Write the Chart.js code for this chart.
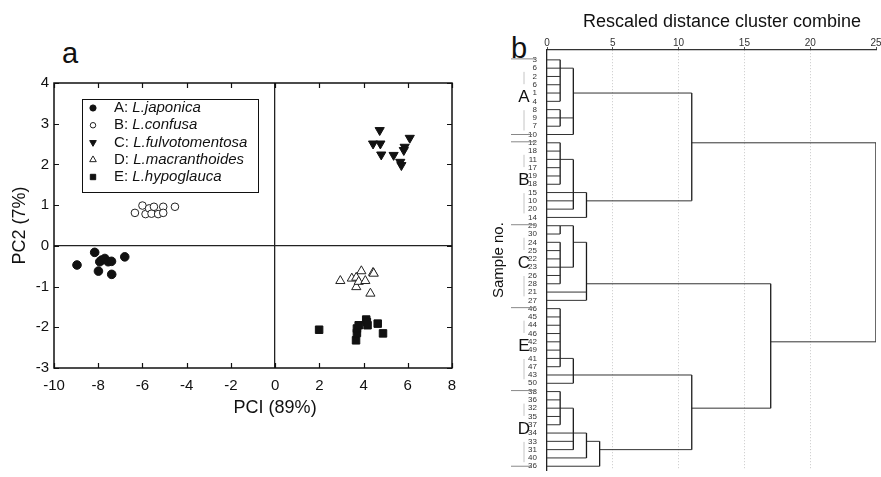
<!DOCTYPE html>
<html>
<head>
<meta charset="utf-8">
<script src="https://cdn.jsdelivr.net/npm/chart.js@4.4.0/dist/chart.umd.min.js"></script>
<style>
  body { margin: 0; background: #fff; width: 881px; height: 477px; overflow: hidden; position: relative;
         font-family: "Liberation Sans", Arial, sans-serif; }
  canvas { position: absolute; top: 0; }
  #pca { left: 0; }
  #dendro { left: 490px; }
  .panel { position: absolute; font-size: 29px; color: #111; line-height: 1; }
</style>
</head>
<body>
<div class="panel" style="left:62px;top:39px">a</div>
<div class="panel" style="left:511px;top:34px">b</div>
<canvas id="pca" width="470" height="440"></canvas>
<canvas id="dendro" width="391" height="477"></canvas>
<script>
// ---- panel a: PCA scores ----
const groupCodes = ['A', 'B', 'C', 'D', 'E'];
const speciesNames = ['L.japonica', 'L.confusa', 'L.fulvotomentosa', 'L.macranthoides', 'L.hypoglauca'];

const pc1A = [-8.96, -8.16, -7.99, -7.93, -7.85, -7.70, -7.55, -7.40, -7.39, -6.80];
const pc2A = [-0.47, -0.16, -0.62, -0.39, -0.35, -0.31, -0.39, -0.38, -0.70, -0.27];
const pc1B = [-6.34, -6.00, -5.86, -5.70, -5.59, -5.48, -5.29, -5.06, -5.06, -4.53];
const pc2B = [0.81, 0.99, 0.78, 0.92, 0.79, 0.96, 0.78, 0.96, 0.81, 0.96];
const pc1C = [4.43, 4.73, 4.76, 4.80, 5.36, 5.66, 5.71, 5.82, 5.86, 6.09];
const pc2C = [2.51, 2.84, 2.51, 2.24, 2.23, 2.06, 1.98, 2.35, 2.43, 2.65];
const pc1D = [2.95, 3.47, 3.67, 3.67, 3.78, 3.90, 4.08, 4.31, 4.43, 4.46];
const pc2D = [-0.86, -0.80, -0.78, -1.01, -0.88, -0.62, -0.86, -1.17, -0.66, -0.68];
const pc1E = [1.99, 3.66, 3.70, 3.70, 3.78, 4.12, 4.15, 4.18, 4.64, 4.88];
const pc2E = [-2.06, -2.32, -2.14, -2.03, -1.95, -1.81, -1.87, -1.95, -1.91, -2.15];

const xTitle = 'PCI (89%)';
const yTitle = 'PC2 (7%)';

// ---- panel b: dendrogram ----
const leafLabels = [
  '3', '6', '2', '6', '1', '4', '8', '9', '7', '10',
  '12', '18', '11', '17', '19', '18', '15', '10', '20', '14',
  '29', '30', '24', '25', '22', '23', '26', '28', '21', '27',
  '46', '45', '44', '46', '42', '49', '41', '47', '43', '50',
  '38', '36', '32', '35', '37', '34', '33', '31', '40', '36'
];
const groupNames = ['A', 'B', 'C', 'E', 'D'];
const groupFirstRows = [0, 10, 20, 30, 40];
const groupLastRows = [9, 19, 29, 39, 49];
const distanceTicks = [0, 5, 10, 15, 20, 25];

// [name, rescaled distance, members (leaf rows or earlier clusters), row the joined cluster continues on]
const merges = [
  ['A1', 1, [0, 1, 2, 3, 4, 5], 1],
  ['A2', 1, [6, 7, 8], 7],
  ['A3', 2, ['A1', 'A2', 9], 4],
  ['B1', 1, [10, 11, 12, 13, 14, 15], 12],
  ['B2', 2, ['B1', 16, 17, 18], 16],
  ['B3', 3, ['B2', 19], 17],
  ['AB', 11, ['A3', 'B3'], 10],
  ['C1', 1, [20, 21], 20],
  ['C2', 1, [22, 23, 24, 25, 26, 27], 25],
  ['C3', 2, ['C1', 'C2'], 22],
  ['C4', 3, ['C3', 28, 29], 27],
  ['E1', 1, [30, 31, 32, 33, 34, 35, 36, 37], 36],
  ['E2', 2, ['E1', 38, 39], 38],
  ['D1', 1, [40, 41, 42, 43, 44], 42],
  ['D2', 2, ['D1', 45, 46, 47], 45],
  ['D3', 3, ['D2', 48], 46],
  ['D4', 4, ['D3', 49], 47],
  ['ED', 11, ['E2', 'D4'], 42],
  ['CED', 17, ['C4', 'ED'], 34],
  ['root', 25, ['AB', 'CED'], 34]
];

const FONT = '"Liberation Sans", Arial, sans-serif';
Chart.defaults.font.family = FONT;
Chart.defaults.color = '#111';

function pts(xs, ys) {
  return xs.map((x, i) => ({ x: x, y: ys[i] }));
}

const pcaSets = [
  { data: pts(pc1A, pc2A), pointStyle: 'circle', pointRadius: 4.3, backgroundColor: '#111', borderColor: '#111' },
  { data: pts(pc1B, pc2B), pointStyle: 'circle', pointRadius: 3.8, backgroundColor: '#fff', borderColor: '#222' },
  { data: pts(pc1C, pc2C), pointStyle: 'triangle', pointRotation: 180, pointRadius: 5.3, backgroundColor: '#111', borderColor: '#111' },
  { data: pts(pc1D, pc2D), pointStyle: 'triangle', pointRadius: 5.3, backgroundColor: '#fff', borderColor: '#222' },
  { data: pts(pc1E, pc2E), pointStyle: 'rect', pointRadius: 5.3, backgroundColor: '#111', borderColor: '#111' }
];
pcaSets.forEach((ds, i) => {
  ds.label = groupCodes[i] + ': ' + speciesNames[i];
  ds.pointBorderWidth = 1;
});

// frame, inward ticks, legend box and x title
const pcaDecor = {
  id: 'pcaDecor',
  afterDraw(chart) {
    const { ctx, chartArea: a, scales: { x, y } } = chart;
    ctx.save();
    ctx.strokeStyle = '#111';
    ctx.lineWidth = 1.5;
    ctx.strokeRect(a.left, a.top, a.right - a.left, a.bottom - a.top);
    ctx.lineWidth = 1.2;
    ctx.beginPath();
    x.ticks.forEach(t => {
      const px = Math.round(x.getPixelForValue(t.value)) + 0.5;
      ctx.moveTo(px, a.bottom); ctx.lineTo(px, a.bottom - 5);
      ctx.moveTo(px, a.top); ctx.lineTo(px, a.top + 5);
    });
    y.ticks.forEach(t => {
      const py = Math.round(y.getPixelForValue(t.value)) + 0.5;
      ctx.moveTo(a.left, py); ctx.lineTo(a.left + 5, py);
      ctx.moveTo(a.right, py); ctx.lineTo(a.right - 5, py);
    });
    ctx.stroke();

    // legend
    const bx = a.left + 28, by = a.top + 16, bw = 176, bh = 93;
    ctx.lineWidth = 1;
    ctx.strokeRect(bx + 0.5, by + 0.5, bw, bh);
    chart.data.datasets.forEach((ds, i) => {
      const ly = by + 9 + i * 17.25;
      ctx.fillStyle = ds.backgroundColor;
      ctx.strokeStyle = ds.borderColor;
      ctx.lineWidth = 1;
      Chart.helpers.drawPoint(ctx, {
        pointStyle: ds.pointStyle, rotation: ds.pointRotation || 0,
        radius: ds.pointRadius * 0.72, borderWidth: 1
      }, bx + 11, ly);
      ctx.fillStyle = '#111';
      ctx.textBaseline = 'middle';
      ctx.textAlign = 'left';
      const code = groupCodes[i] + ': ';
      ctx.font = '15px ' + FONT;
      ctx.fillText(code, bx + 32, ly);
      const cw = ctx.measureText(code).width;
      ctx.font = 'italic 15px ' + FONT;
      ctx.fillText(speciesNames[i], bx + 32 + cw, ly);
    });

    // x title, centred under the zero line as in the original
    ctx.font = '18px ' + FONT;
    ctx.textAlign = 'center';
    ctx.fillStyle = '#111';
    ctx.fillText(xTitle, x.getPixelForValue(0), a.bottom + 40);
    ctx.restore();
  }
};

new Chart(document.getElementById('pca'), {
  type: 'scatter',
  data: { datasets: pcaSets },
  options: {
    responsive: false,
    animation: false,
    layout: { padding: { left: 0, top: 83, right: 18, bottom: 0 } },
    plugins: { legend: { display: false }, tooltip: { enabled: false } },
    scales: {
      x: {
        min: -10, max: 8,
        ticks: { stepSize: 2, padding: 9, font: { size: 15 }, color: '#111' },
        grid: { drawTicks: false, lineWidth: 1.3, color: c => c.tick && c.tick.value === 0 ? '#222' : 'rgba(0,0,0,0)' },
        border: { display: false },
        afterFit: s => { s.height = 72; }
      },
      y: {
        min: -3, max: 4,
        ticks: { stepSize: 1, padding: 5, font: { size: 15 }, color: '#111' },
        grid: { drawTicks: false, lineWidth: 1.3, color: c => c.tick && c.tick.value === 0 ? '#222' : 'rgba(0,0,0,0)' },
        border: { display: false },
        title: { display: true, text: yTitle, font: { size: 18 }, color: '#111', padding: { top: 9, bottom: 0 } },
        afterFit: s => { s.width = 54; }
      }
    }
  },
  plugins: [pcaDecor]
});

// build dendrogram segments from the merge table
const nodes = {};
const segments = [];
merges.forEach(([name, h, kids, row]) => {
  const rows = kids.map(k => typeof k === 'number' ? k : nodes[k].row);
  kids.forEach((k, j) => {
    const x0 = typeof k === 'number' ? 0 : nodes[k].h;
    segments.push({ kind: 'h', pts: [{ x: x0, y: rows[j] }, { x: h, y: rows[j] }] });
  });
  segments.push({ kind: 'v', pts: [{ x: h, y: Math.min(...rows) }, { x: h, y: Math.max(...rows) }] });
  nodes[name] = { h: h, row: row };
});

const dendroSets = segments.map(s => ({
  data: s.pts,
  showLine: true,
  borderColor: s.kind === 'v' ? '#1a1a1a' : '#333',
  borderWidth: s.kind === 'v' ? 1.3 : 1,
  pointRadius: 0,
  pointHoverRadius: 0
}));

const dendroDecor = {
  id: 'dendroDecor',
  afterDraw(chart) {
    const { ctx, chartArea: a, scales: { y } } = chart;
    const cx = a.left - 23;
    ctx.save();
    ctx.textAlign = 'center';
    ctx.textBaseline = 'middle';
    groupNames.forEach((g, i) => {
      const yTop = y.getPixelForValue(groupFirstRows[i]);
      const yBot = y.getPixelForValue(groupLastRows[i]);
      const yMid = (yTop + yBot) / 2;
      ctx.lineWidth = 1;
      ctx.strokeStyle = '#888';
      ctx.beginPath();
      ctx.moveTo(a.left - 36, yTop - 1); ctx.lineTo(a.left - 12, yTop - 1);
      if (i === 0 || i === groupNames.length - 1) {
        ctx.moveTo(a.left - 36, yBot); ctx.lineTo(a.left - 15, yBot);
      }
      ctx.stroke();
      ctx.strokeStyle = '#c4c4c4';
      ctx.beginPath();
      ctx.moveTo(cx, yTop + 12); ctx.lineTo(cx, yMid - 13);
      ctx.moveTo(cx, yMid + 13); ctx.lineTo(cx, yBot - 4);
      ctx.stroke();
      ctx.fillStyle = '#111';
      ctx.font = '17px ' + FONT;
      ctx.fillText(g, cx, yMid);
    });
    ctx.font = '18px ' + FONT;
    ctx.fillText('Rescaled distance cluster combine', 232, 22);
    ctx.restore();
  }
};

new Chart(document.getElementById('dendro'), {
  type: 'scatter',
  data: { datasets: dendroSets },
  options: {
    responsive: false,
    animation: false,
    layout: { padding: { left: 0, top: 0, right: 5, bottom: 1 } },
    plugins: { legend: { display: false }, tooltip: { enabled: false } },
    scales: {
      x: {
        position: 'top',
        min: 0, max: 25,
        afterBuildTicks: s => { s.ticks = distanceTicks.map(v => ({ value: v })); },
        ticks: { padding: -2, font: { size: 10 }, color: '#333' },
        grid: {
          tickLength: 3, tickColor: '#555', lineWidth: 1,
          color: c => c.tick && c.tick.value > 0 && c.tick.value < 25 ? '#c8c8c8' : 'rgba(0,0,0,0)'
        },
        border: { display: true, color: '#333', width: 1.2, dash: [1, 2] },
        afterFit: s => { s.height = 50; }
      },
      y: {
        reverse: true,
        min: -1.19, max: 49.48,
        afterBuildTicks: s => { s.ticks = leafLabels.map((_, i) => ({ value: i })); },
        ticks: { autoSkip: false, padding: 2, font: { size: 8 }, color: '#333',
                 callback: v => leafLabels[v] },
        grid: { display: false },
        border: { display: true, color: '#222', width: 1.3 },
        title: { display: true, text: 'Sample no.', font: { size: 15 }, color: '#111', padding: { top: 0, bottom: 0 } },
        afterFit: s => { s.width = 57; }
      }
    }
  },
  plugins: [dendroDecor]
});
</script>
</body>
</html>
